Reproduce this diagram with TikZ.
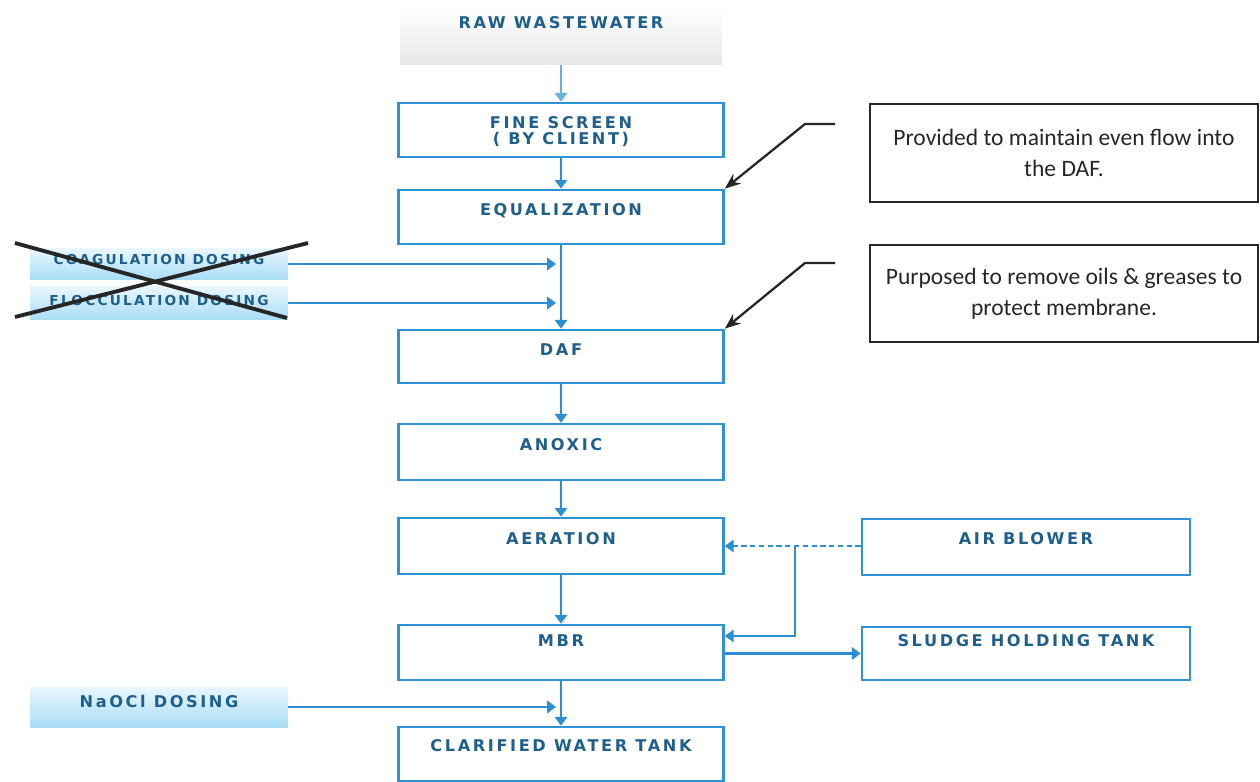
\documentclass[tikz,border=0pt]{standalone}
\usepackage{fontspec}
\setmainfont{Carlito}
\newfontfamily\boxfont{DejaVu Sans}[LetterSpace=16]
\usetikzlibrary{arrows.meta}
\definecolor{boxblue}{HTML}{2E93D6}
\definecolor{linkblue}{HTML}{2B8FD2}
\definecolor{txtblue}{HTML}{1E5F8C}
\definecolor{dosetop}{HTML}{EAF7FD}
\definecolor{dosebot}{HTML}{A9DDF6}
\tikzset{
  pbox/.style={draw=boxblue, line width=1.5pt, rectangle, minimum width=6.5cm, inner sep=0pt},
  ptext/.style={font=\boxfont\bfseries\fontsize{9.2}{10}\selectfont, text=txtblue, align=center},
  dosebox/.style={rectangle, minimum width=5.16cm, inner sep=0pt, top color=dosetop, bottom color=dosebot, draw=none},
  rawbox/.style={rectangle, minimum width=6.44cm, minimum height=1.2cm, inner sep=0pt, top color=white, bottom color=black!9, draw=none},
  annbox/.style={draw=black!85, line width=1.3pt, rectangle, minimum width=7.76cm, inner sep=0pt, align=center, font=\fontsize{13.4}{17.6}\selectfont, text=black!85},
  flow/.style={draw=linkblue, line width=1.3pt, -{Triangle[length=5pt,width=7pt]}},
  annarrow/.style={draw=black!85, line width=1.3pt, -{Stealth[length=9pt,width=7pt]}},
  cross/.style={draw=black!85, line width=2.2pt}
}
\begin{document}
\begin{tikzpicture}[x=0.02cm, y=-0.02cm]
\useasboundingbox (0,0) rectangle (1260,781);
% main column
\node[rawbox, label={[ptext, anchor=north, yshift=-0.12cm]north:RAW WASTEWATER}] (raw) at (561,35) {};
\node[pbox, minimum height=1.08cm, label={[ptext, anchor=north, yshift=-0.18cm, font=\boxfont\bfseries\fontsize{9.2}{8.8}\selectfont]north:FINE SCREEN\\( BY CLIENT)}] (fs) at (561,130) {};
\node[pbox, minimum height=1.08cm, label={[ptext, anchor=north, yshift=-0.18cm]north:EQUALIZATION}] (eq) at (561,217) {};
\node[pbox, minimum height=1.06cm, label={[ptext, anchor=north, yshift=-0.17cm]north:DAF}] (daf) at (561,356.5) {};
\node[pbox, minimum height=1.12cm, label={[ptext, anchor=north, yshift=-0.19cm]north:ANOXIC}] (anox) at (561,452) {};
\node[pbox, minimum height=1.12cm, label={[ptext, anchor=north, yshift=-0.19cm]north:AERATION}] (aer) at (561,546) {};
\node[pbox, minimum height=1.10cm, label={[ptext, anchor=north, yshift=-0.1cm]north:MBR}] (mbr) at (561,652.5) {};
\node[pbox, minimum height=1.08cm, label={[ptext, anchor=north, yshift=-0.16cm]north:CLARIFIED WATER TANK}] (clar) at (561,754) {};
% right column
\node[pbox, minimum width=6.56cm, minimum height=1.12cm, label={[ptext, anchor=north, yshift=-0.18cm]north:AIR BLOWER}] (air) at (1026,547) {};
\node[pbox, minimum width=6.56cm, minimum height=1.06cm, label={[ptext, anchor=north, yshift=-0.05cm]north:SLUDGE HOLDING TANK}] (sludge) at (1026,653.5) {};
% dosing boxes
\node[dosebox, minimum height=0.62cm, label={[ptext, anchor=north, yshift=0.0cm, font=\boxfont\bfseries\fontsize{7.8}{8}\selectfont]north:COAGULATION DOSING}] (coag) at (159,264) {};
\node[dosebox, minimum height=0.66cm, label={[ptext, anchor=north, yshift=-0.06cm, font=\boxfont\bfseries\fontsize{7.8}{8}\selectfont]north:FLOCCULATION DOSING}] (floc) at (159,303) {};
\node[dosebox, minimum height=0.8cm, label={[ptext, anchor=north, yshift=-0.04cm]north:NaOCl DOSING}] (naocl) at (159,707) {};
% crossing out
\coordinate (c1) at (15,243);
\coordinate (c2) at (287,318);
\coordinate (c3) at (308,243);
\coordinate (c4) at (15,317);
\draw[cross] (c1) -- (c2);
\draw[cross] (c3) -- (c4);
% annotation boxes
\node[annbox, minimum height=1.96cm] (ann1) at (1064,153) {Provided to maintain even flow into\\the DAF.};
\node[annbox, minimum height=1.94cm] (ann2) at (1064,293.5) {Purposed to remove oils \& greases to\\protect membrane.};
\coordinate (a1) at (835,124);
\coordinate (a1k) at (805,124);
\coordinate (a2) at (835,263);
\coordinate (a2k) at (805,263);
\draw[annarrow] (a1) -- (a1k) -- (eq.north east);
\draw[annarrow] (a2) -- (a2k) -- (daf.north east);
% main flow
\draw[flow, draw=linkblue!70] (raw.south) -- (fs.north);
\draw[flow] (fs.south) -- (eq.north);
\draw[flow] (eq.south) -- (daf.north);
\draw[flow] (daf.south) -- (anox.north);
\draw[flow] (anox.south) -- (aer.north);
\draw[flow] (aer.south) -- (mbr.north);
\draw[flow] (mbr.south) -- (clar.north);
% dosing inputs
\coordinate (jc) at (eq.south |- coag.east);
\coordinate (jf) at (eq.south |- floc.east);
\coordinate (jn) at (mbr.south |- naocl.east);
\draw[flow] (coag.east) -- ([xshift=-0.1cm]jc);
\draw[flow] (floc.east) -- ([xshift=-0.1cm]jf);
\draw[flow] (naocl.east) -- ([xshift=-0.1cm]jn);
% air blower and sludge
\coordinate (jb) at (795,546);
\coordinate (jb2) at (795,636);
\draw[flow, densely dashed] (air.west |- jb) -- (aer.east |- jb);
\draw[flow] (jb) -- (jb2) -- (mbr.east |- jb2);
\draw[flow] (mbr.east |- sludge.west) -- (sludge.west);
\end{tikzpicture}
\end{document}
